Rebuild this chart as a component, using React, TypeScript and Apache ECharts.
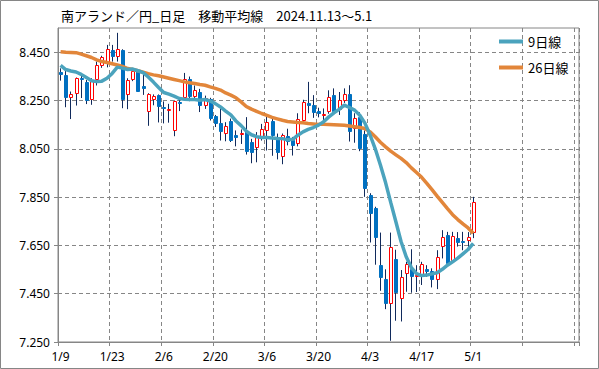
import React, { useEffect, useRef } from 'react';
import * as echarts from 'echarts';

const titleText = '南アランド／円_日足　移動平均線　2024.11.13～5.1';
const seriesNames = ['9日線', '26日線'];

const dates = [
  '1/9', '1/10', '1/13', '1/14', '1/15', '1/16', '1/17', '1/20', '1/21', '1/22',
  '1/23', '1/24', '1/27', '1/28', '1/29', '1/30', '1/31', '2/3', '2/4', '2/5',
  '2/6', '2/7', '2/10', '2/11', '2/12', '2/13', '2/14', '2/17', '2/18', '2/19',
  '2/20', '2/21', '2/24', '2/25', '2/26', '2/27', '2/28', '3/3', '3/4', '3/5',
  '3/6', '3/7', '3/10', '3/11', '3/12', '3/13', '3/14', '3/17', '3/18', '3/19',
  '3/20', '3/21', '3/24', '3/25', '3/26', '3/27', '3/28', '3/31', '4/1', '4/2',
  '4/3', '4/4', '4/7', '4/8', '4/9', '4/10', '4/11', '4/14', '4/15', '4/16',
  '4/17', '4/18', '4/21', '4/22', '4/23', '4/24', '4/25', '4/28', '4/29', '4/30',
  '5/1', '5/2', '5/5', '5/6', '5/7', '5/8', '5/9', '5/12', '5/13', '5/14',
  '5/15', '5/16', '5/19', '5/20', '5/21', '5/22', '5/23', '5/26', '5/27', '5/28',
  '5/29',
];

const opens = [
  8.368, 8.354, 8.262, 8.275, 8.342, 8.326, 8.252, 8.333, 8.391, 8.404,
  8.460, 8.428, 8.458, 8.273, 8.335, 8.370, 8.308, 8.202, 8.250, 8.272,
  8.225, 8.207, 8.125, 8.243, 8.260, 8.340, 8.264, 8.287, 8.226, 8.257,
  8.184, 8.156, 8.110, 8.167, 8.105, 8.108, 8.122, 8.077, 8.054, 8.091,
  8.122, 8.167, 8.099, 8.016, 8.101, 8.087, 8.069, 8.167, 8.239, 8.230,
  8.206, 8.190, 8.202, 8.272, 8.209, 8.247, 8.276, 8.133, 8.180, 8.110,
  7.858, 7.803, 7.568, 7.510, 7.406, 7.593, 7.426, 7.530, 7.552, 7.518,
  7.522, 7.552, 7.544, 7.506, 7.642, 7.692, 7.586, 7.679, 7.669, 7.669,
  7.702,
];
const closes = [
  8.354, 8.260, 8.275, 8.341, 8.335, 8.246, 8.329, 8.395, 8.428, 8.465,
  8.432, 8.464, 8.250, 8.333, 8.370, 8.287, 8.297, 8.275, 8.267, 8.222,
  8.215, 8.216, 8.246, 8.235, 8.337, 8.264, 8.294, 8.226, 8.260, 8.174,
  8.153, 8.119, 8.146, 8.084, 8.096, 8.115, 8.036, 8.033, 8.101, 8.133,
  8.160, 8.101, 8.033, 8.105, 8.077, 8.060, 8.174, 8.243, 8.226, 8.198,
  8.192, 8.195, 8.264, 8.202, 8.251, 8.276, 8.119, 8.178, 8.049, 7.885,
  7.782, 7.679, 7.516, 7.407, 7.642, 7.454, 7.518, 7.571, 7.520, 7.527,
  7.571, 7.541, 7.505, 7.600, 7.683, 7.575, 7.689, 7.661, 7.661, 7.683,
  7.828,
];
const lows = [
  8.332, 8.222, 8.173, 8.229, 8.260, 8.235, 8.232, 8.312, 8.385, 8.387,
  8.411, 8.411, 8.218, 8.214, 8.330, 8.285, 8.273, 8.145, 8.230, 8.159,
  8.155, 8.158, 8.102, 8.206, 8.250, 8.247, 8.250, 8.202, 8.215, 8.167,
  8.140, 8.084, 8.081, 8.078, 8.060, 8.070, 8.026, 7.990, 7.994, 8.084,
  8.043, 8.021, 8.006, 7.986, 8.064, 8.022, 8.060, 8.160, 8.197, 8.178,
  8.180, 8.167, 8.195, 8.190, 8.190, 8.240, 8.080, 8.075, 8.040, 7.851,
  7.662, 7.570, 7.462, 7.386, 7.255, 7.338, 7.335, 7.458, 7.454, 7.457,
  7.486, 7.520, 7.476, 7.469, 7.596, 7.575, 7.580, 7.645, 7.630, 7.630,
  7.680,
];
const highs = [
  8.383, 8.373, 8.287, 8.345, 8.359, 8.335, 8.342, 8.411, 8.435, 8.480,
  8.480, 8.530, 8.462, 8.342, 8.383, 8.380, 8.359, 8.280, 8.275, 8.275,
  8.246, 8.236, 8.250, 8.257, 8.364, 8.349, 8.312, 8.298, 8.270, 8.261,
  8.190, 8.222, 8.160, 8.175, 8.126, 8.130, 8.181, 8.091, 8.119, 8.153,
  8.184, 8.184, 8.113, 8.113, 8.133, 8.099, 8.197, 8.253, 8.327, 8.272,
  8.220, 8.217, 8.292, 8.300, 8.285, 8.300, 8.313, 8.197, 8.201, 8.126,
  7.866, 7.810, 7.703, 7.551, 7.703, 7.632, 7.548, 7.582, 7.634, 7.568,
  7.582, 7.568, 7.555, 7.630, 7.713, 7.706, 7.706, 7.705, 7.706, 7.705,
  7.851,
];

const ma9 = [
  8.395, 8.378, 8.372, 8.368, 8.358, 8.345, 8.332, 8.328, 8.330, 8.342,
  8.362, 8.388, 8.384, 8.378, 8.380, 8.373, 8.365, 8.347, 8.326, 8.304,
  8.283, 8.276, 8.268, 8.258, 8.255, 8.254, 8.254, 8.251, 8.254, 8.248,
  8.237, 8.223, 8.206, 8.190, 8.165, 8.146, 8.123, 8.108, 8.100, 8.097,
  8.097, 8.095, 8.093, 8.092, 8.087, 8.089, 8.106, 8.120, 8.130, 8.138,
  8.148, 8.162, 8.182, 8.199, 8.213, 8.231, 8.221, 8.210, 8.189, 8.156,
  8.107, 8.050, 7.983, 7.910, 7.828, 7.748, 7.666, 7.603, 7.558, 7.533,
  7.525, 7.527, 7.532, 7.537, 7.551, 7.568, 7.582, 7.597, 7.615, 7.633,
  7.658,
];
const ma26 = [
  8.452, 8.450, 8.449, 8.448, 8.442, 8.435, 8.428, 8.418, 8.411, 8.407,
  8.402, 8.397, 8.391, 8.382, 8.378, 8.373, 8.367, 8.361, 8.356, 8.352,
  8.347, 8.342, 8.337, 8.332, 8.327, 8.323, 8.320, 8.316, 8.313, 8.306,
  8.300, 8.293, 8.281, 8.272, 8.261, 8.244, 8.225, 8.214, 8.205, 8.196,
  8.188, 8.180, 8.174, 8.168, 8.163, 8.161, 8.159, 8.158, 8.155, 8.153,
  8.151, 8.151, 8.150, 8.149, 8.148, 8.147, 8.144, 8.141, 8.138, 8.134,
  8.120, 8.100, 8.077, 8.058, 8.040, 8.025, 8.010, 7.993, 7.971, 7.952,
  7.932, 7.907, 7.881, 7.854, 7.828, 7.802, 7.777, 7.757, 7.739, 7.722,
  7.700,
];

const yTicks = [7.25, 7.45, 7.65, 7.85, 8.05, 8.25, 8.45];
const yMin = 7.25;
const yMax = 8.55;

const GRAY = '#868686';
const WICK = '#102a5c';
const DOWN = '#0070c0';
const UP_BORDER = '#ff0000';
const MA9_COLOR = '#4ba3bd';
const MA26_COLOR = '#e2863a';

export default function App() {
  const ref = useRef<HTMLDivElement>(null);

  useEffect(() => {
    document.body.style.margin = '0';
    if (!ref.current) return;
    const chart = echarts.init(ref.current, undefined, { renderer: 'svg' });

    const candleData = opens.map((o, i) => [i, o, closes[i], lows[i], highs[i]]);

    const option: any = {
      animation: false,
      backgroundColor: '#ffffff',
      textStyle: { fontFamily: 'Noto Sans' },
      title: {
        text: titleText,
        left: 61,
        top: 9,
        padding: 0,
        textStyle: {
          fontSize: 13,
          fontWeight: 'normal',
          fontFamily: 'Noto Sans CJK JP',
          color: '#000',
        },
      },
      legend: {
        orient: 'vertical',
        left: 499,
        top: 35,
        padding: 0,
        itemWidth: 24,
        itemHeight: 4,
        itemGap: 13,
        icon: 'rect',
        data: seriesNames,
        textStyle: { fontSize: 13, fontFamily: 'Noto Sans CJK JP', color: '#000', padding: [0, 0, 0, 0] },
      },
      graphic: [
        {
          type: 'rect',
          shape: { x: 0.5, y: 0.5, width: 598, height: 368 },
          style: { fill: 'none', stroke: GRAY, lineWidth: 1 },
          silent: true,
        },
      ],
      grid: {
        left: 58,
        right: 20,
        top: 28,
        bottom: 27,
        show: true,
        borderColor: GRAY,
        borderWidth: 1,
        backgroundColor: 'transparent',
        containLabel: false,
        outerBoundsMode: 'none',
      },
      xAxis: {
        type: 'category',
        data: dates,
        boundaryGap: true,
        axisLine: { show: true, lineStyle: { color: GRAY, width: 1 } },
        axisTick: { show: true, interval: 9, length: 4, lineStyle: { color: GRAY } },
        axisLabel: {
          interval: 9,
          margin: 8,
          fontSize: 12,
          color: '#000',
          fontFamily: 'Noto Sans',
          formatter: (v: string, idx: number) => (idx < opens.length ? v : ''),
        },
        splitLine: {
          show: true,
          interval: 9,
          lineStyle: { color: GRAY, type: [4, 3], width: 1 },
        },
      },
      yAxis: {
        type: 'value',
        min: yMin,
        max: yMax,
        axisLine: { show: true, lineStyle: { color: GRAY, width: 1 } },
        axisTick: { show: true, length: 4, customValues: yTicks, lineStyle: { color: GRAY } },
        axisLabel: {
          customValues: yTicks,
          margin: 8,
          fontSize: 12,
          color: '#000',
          fontFamily: 'Noto Sans',
          formatter: (v: number) => v.toFixed(3),
        },
        splitLine: {
          show: true,
          lineStyle: { color: GRAY, type: [4, 3], width: 1 },
        },
      },
      series: [
        {
          type: 'custom',
          name: 'candles',
          data: candleData,
          encode: { x: 0, y: [1, 2, 3, 4] },
          z: 2,
          renderItem: (params: any, api: any) => {
            const i = api.value(0);
            const o = api.value(1);
            const c = api.value(2);
            const l = api.value(3);
            const h = api.value(4);
            const up = c >= o;
            const pO = api.coord([i, o]);
            const yC = api.coord([i, c])[1];
            const yL = api.coord([i, l])[1];
            const yH = api.coord([i, h])[1];
            const p = Math.floor(pO[0]);
            const top = Math.round(Math.min(pO[1], yC));
            const bot = Math.round(Math.max(pO[1], yC));
            const hgt = Math.max(bot - top - 1, 1);
            return {
              type: 'group',
              children: [
                {
                  type: 'line',
                  shape: { x1: p + 0.5, y1: yH, x2: p + 0.5, y2: yL },
                  style: { stroke: WICK, lineWidth: 1 },
                },
                {
                  type: 'rect',
                  shape: { x: p - 0.5, y: top + 0.5, width: 3, height: hgt },
                  style: up
                    ? { fill: '#ffffff', stroke: UP_BORDER, lineWidth: 1 }
                    : { fill: DOWN, stroke: DOWN, lineWidth: 1 },
                },
              ],
            };
          },
        },
        {
          type: 'line',
          name: seriesNames[0],
          data: ma9,
          showSymbol: false,
          symbol: 'none',
          color: MA9_COLOR,
          lineStyle: { color: MA9_COLOR, width: 3.5 },
          z: 4,
        },
        {
          type: 'line',
          name: seriesNames[1],
          data: ma26,
          showSymbol: false,
          symbol: 'none',
          color: MA26_COLOR,
          lineStyle: { color: MA26_COLOR, width: 3.5 },
          z: 3,
        },
      ],
    };

    chart.setOption(option);
    return () => {
      chart.dispose();
    };
  }, []);

  return <div ref={ref} style={{ width: 599, height: 369 }} />;
}
